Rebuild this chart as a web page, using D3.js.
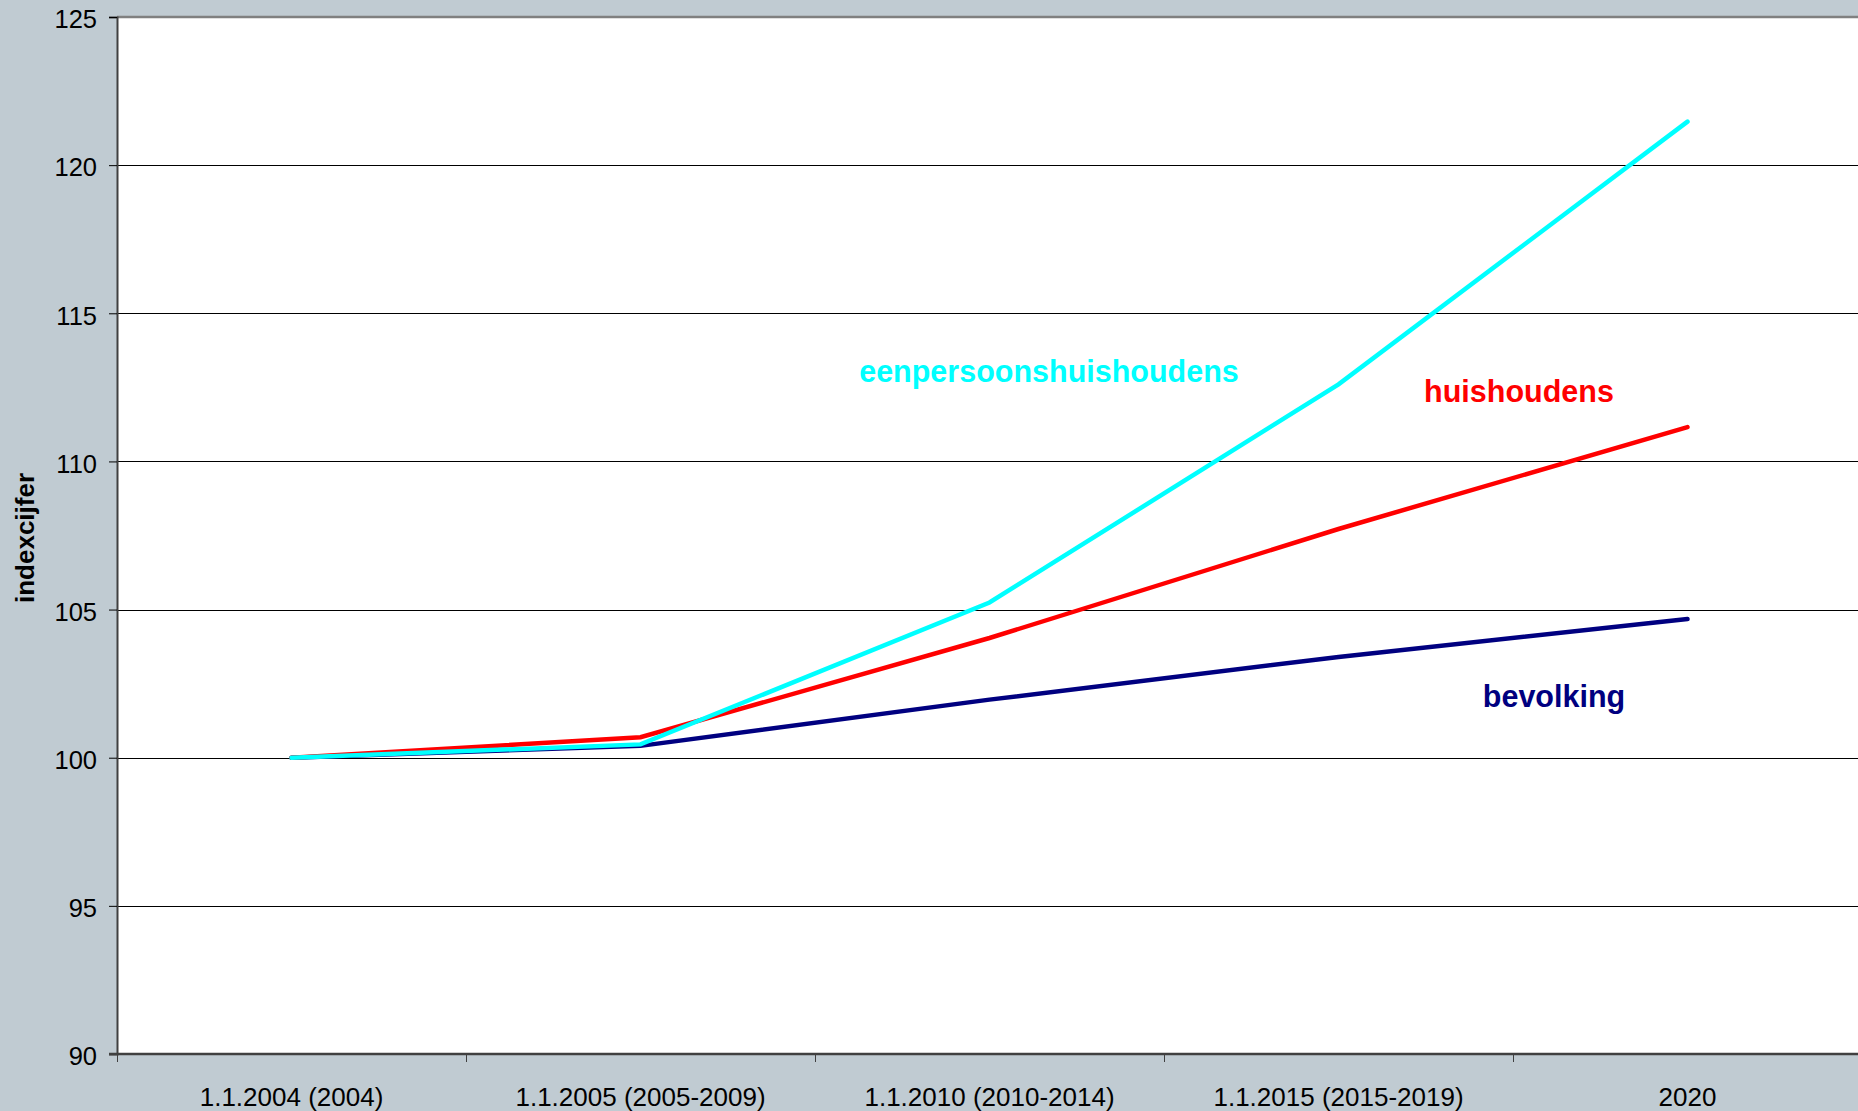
<!doctype html>
<html lang="nl">
<head>
	<meta charset="UTF-8">
	<title>Indexcijfers bevolking en huishoudens</title>
	<script src="https://cdn.jsdelivr.net/npm/d3@7/dist/d3.min.js"></script>
	<style>
		html, body { margin: 0; padding: 0; background: #c0cbd2; overflow: hidden; }
		svg { display: block; font-family: "Liberation Sans", Arial, sans-serif; }
	</style>
</head>
<body>

	<script type="text/javascript">
		var w = 1858, h = 1111;

		// data
		var categories = ["1.1.2004 (2004)", "1.1.2005 (2005-2009)", "1.1.2010 (2010-2014)", "1.1.2015 (2015-2019)", "2020"];
		var bevolking = [100, 100.4, 101.96, 103.4, 104.68];
		var huishoudens = [100, 100.69, 104.04, 107.72, 111.16];
		var eenpersoons = [100, 100.45, 105.24, 112.6, 121.47];
		var yTicks = [90, 95, 100, 105, 110, 115, 120, 125];

		var series = [
			{ name: "bevolking", values: bevolking, color: "#000080", lx: 1554, ly: 707 },
			{ name: "huishoudens", values: huishoudens, color: "#ff0000", lx: 1519, ly: 402 },
			{ name: "eenpersoonshuishoudens", values: eenpersoons, color: "#00ffff", lx: 1049, ly: 382 }
		];

		// note: "top" is a reserved window property, so plotTop etc.
		var plotLeft = 117, plotTop = 17, plotBottom = 1054, band = 349;

		var x = d3.scaleBand()
			.domain(categories)
			.range([plotLeft, plotLeft + band * categories.length]);

		var y = d3.scaleLinear()
			.domain([90, 125])
			.range([plotBottom, plotTop]);

		var svg = d3.select("body")
			.append("svg")
			.attr("width", w)
			.attr("height", h);

		// background + plot area
		svg.append("rect")
			.attr("width", w).attr("height", h)
			.attr("fill", "#c0cbd2");

		svg.append("rect")
			.attr("x", plotLeft).attr("y", plotTop)
			.attr("width", w - plotLeft).attr("height", plotBottom - plotTop)
			.attr("fill", "#ffffff");

		// gridlines
		svg.append("g")
			.selectAll("line")
			.data(yTicks.slice(1, -1))
			.enter()
			.append("line")
			.attr("x1", plotLeft).attr("x2", w)
			.attr("y1", function(d) { return Math.round(y(d)) + 0.5; })
			.attr("y2", function(d) { return Math.round(y(d)) + 0.5; })
			.attr("stroke", "#000")
			.attr("stroke-width", 1);

		// top border of the plot
		svg.append("line")
			.attr("x1", plotLeft).attr("x2", w)
			.attr("y1", plotTop).attr("y2", plotTop)
			.attr("stroke", "#808080")
			.attr("stroke-width", 2.5);

		// y axis
		var yAxis = svg.append("g")
			.attr("transform", "translate(" + plotLeft + ",0)")
			.call(d3.axisLeft(y).tickValues(yTicks).tickSize(8).tickPadding(12));

		yAxis.select(".domain").attr("stroke", "#404040").attr("stroke-width", 2);
		yAxis.selectAll(".tick line").attr("stroke", "#000");
		yAxis.selectAll("text")
			.attr("font-size", "25.5px")
			.attr("font-family", "Liberation Sans, Arial, sans-serif")
			.attr("fill", "#000")
			.attr("dy", "0.42em");

		// x axis (labels centred in bands, ticks on band edges)
		var xAxis = svg.append("g")
			.attr("transform", "translate(0," + plotBottom + ")")
			.call(d3.axisBottom(x).tickSize(0).tickPadding(34));

		xAxis.select(".domain").remove();
		xAxis.selectAll("text")
			.attr("font-size", "26px")
			.attr("font-family", "Liberation Sans, Arial, sans-serif")
			.attr("fill", "#000");

		svg.append("line")
			.attr("x1", plotLeft - 8).attr("x2", w)
			.attr("y1", plotBottom).attr("y2", plotBottom)
			.attr("stroke", "#404040")
			.attr("stroke-width", 2.5);

		var edges = categories.map(function(d) { return x(d); });
		svg.append("g")
			.selectAll("line")
			.data(edges)
			.enter()
			.append("line")
			.attr("x1", function(d) { return Math.round(d) + 0.5; })
			.attr("x2", function(d) { return Math.round(d) + 0.5; })
			.attr("y1", plotBottom).attr("y2", plotBottom + 8)
			.attr("stroke", "#404040")
			.attr("stroke-width", 1);

		// lines
		var line = d3.line()
			.x(function(d, i) { return x(categories[i]) + x.bandwidth() / 2; })
			.y(function(d) { return y(d); });

		svg.selectAll("path.serie")
			.data(series)
			.enter()
			.append("path")
			.attr("class", "serie")
			.attr("d", function(d) { return line(d.values); })
			.attr("fill", "none")
			.attr("stroke", function(d) { return d.color; })
			.attr("stroke-width", 4.5)
			.attr("stroke-linecap", "round");

		// series labels
		svg.selectAll("text.lbl")
			.data(series)
			.enter()
			.append("text")
			.attr("class", "lbl")
			.text(function(d) { return d.name; })
			.attr("x", function(d) { return d.lx; })
			.attr("y", function(d) { return d.ly; })
			.attr("text-anchor", "middle")
			.attr("font-size", "30.5px")
			.attr("font-weight", "bold")
			.attr("fill", function(d) { return d.color; });

		// y axis title
		svg.append("text")
			.text("indexcijfer")
			.attr("transform", "translate(34,538) rotate(-90)")
			.attr("text-anchor", "middle")
			.attr("font-size", "26px")
			.attr("font-weight", "bold")
			.attr("fill", "#000");
	</script>

</body>
</html>
